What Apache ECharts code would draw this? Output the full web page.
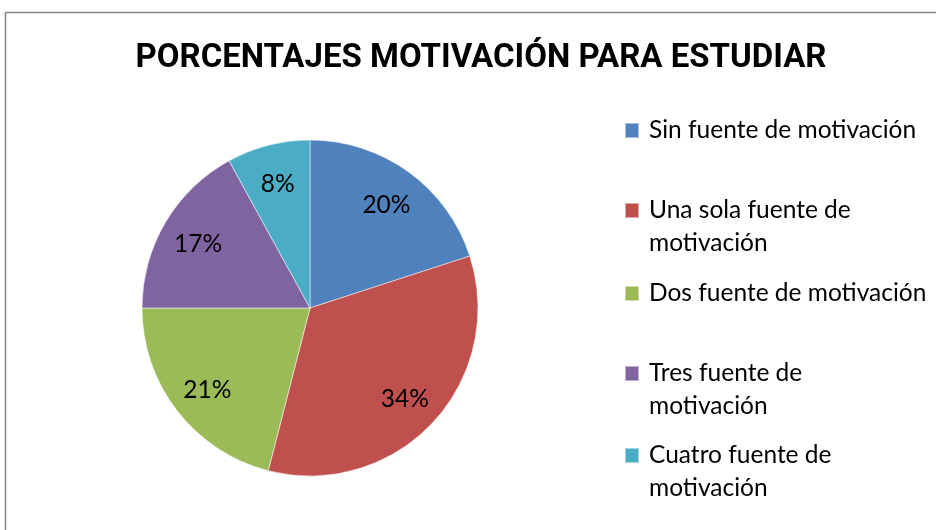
<!DOCTYPE html>
<html>
<head>
<meta charset="utf-8">
<script src="https://cdn.jsdelivr.net/npm/echarts@6/dist/echarts.min.js"></script>
<style>html,body{margin:0;padding:0;background:#fff}#c{width:936px;height:530px}</style>
</head>
<body>
<div id="c"></div>
<script>
const titleText = 'PORCENTAJES MOTIVACIÓN PARA ESTUDIAR';
const categories = ['Sin fuente de motivación', 'Una sola fuente de motivación', 'Dos fuente de motivación', 'Tres fuente de motivación', 'Cuatro fuente de motivación'];
const values = [20, 34, 21, 17, 8];
const colors = ['#4F81BD', '#C0504D', '#9BBB59', '#8064A2', '#4BACC6'];
const legendLines = [
  ['Sin fuente de motivación'],
  ['Una sola fuente de', 'motivación'],
  ['Dos fuente de motivación'],
  ['Tres fuente de', 'motivación'],
  ['Cuatro fuente de', 'motivación']
];
const legendIconTops = [123, 203, 286, 366, 448];

const FONT = 'Lato';
const FS = 24.5;
const LH = 33;

const data = categories.map((n, i) => ({ name: n, value: values[i], itemStyle: { color: colors[i] } }));

const legends = categories.map((n, i) => {
  const lines = legendLines[i];
  const multi = lines.length > 1;
  const iconCenter = legendIconTops[i] + 7.5;
  const top = multi ? iconCenter - 1.5 * LH : iconCenter - LH / 2;
  const txt = multi ? '\n' + lines.join('\n') : lines[0];
  return {
    data: [n],
    orient: 'vertical',
    left: 624,
    top: top,
    padding: 0,
    itemWidth: 14,
    itemHeight: 15,
    icon: 'rect',
    selectedMode: false,
    formatter: () => txt,
    textStyle: {
      fontFamily: FONT, fontSize: FS, color: '#000', lineHeight: LH,
      padding: [0, 0, 0, 5]
    }
  };
});

const chart = echarts.init(document.getElementById('c'), null, { renderer: 'canvas' });
chart.setOption({
  animation: false,
  backgroundColor: '#fff',
  color: colors,
  title: {
    text: titleText,
    left: 481,
    textAlign: 'center',
    top: 42,
    padding: 0,
    textStyle: { fontFamily: 'Roboto', fontWeight: 'bold', fontSize: 33, color: '#000' }
  },
  legend: legends,
  graphic: [{
    type: 'rect', silent: true, z: -10,
    shape: { x: 5.5, y: 12.5, width: 1000, height: 1000 },
    style: { fill: 'none', stroke: '#868686', lineWidth: 1.5 }
  }],
  series: [
    {
      type: 'pie', center: [310, 308], radius: 168, startAngle: 90, clockwise: true,
      data: data, label: { show: false }, labelLine: { show: false },
      itemStyle: { borderColor: 'rgba(255,255,255,0.5)', borderWidth: 1 },
      emphasis: { disabled: true }, silent: true
    },
    {
      type: 'pie', center: [310, 310], radius: [86, 168], startAngle: 90, clockwise: true,
      data: categories.map((n, i) => ({ name: n, value: values[i] })),
      itemStyle: { color: 'rgba(0,0,0,0)', borderWidth: 0 },
      label: { show: true, position: 'inside', formatter: '{c}%', fontFamily: FONT, fontSize: FS, color: '#000' },
      labelLine: { show: false },
      emphasis: { disabled: true }, silent: true, z: 3
    }
  ]
});
</script>
</body>
</html>
